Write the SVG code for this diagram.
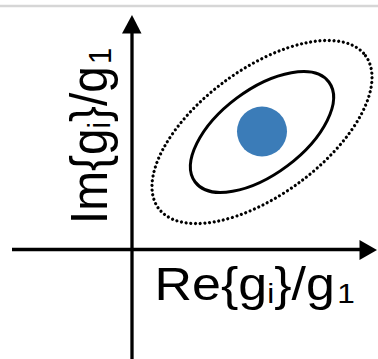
<svg xmlns="http://www.w3.org/2000/svg" width="378" height="359" viewBox="0 0 378 359">
  <style>
    .axis { stroke: #000; stroke-width: 3.3; fill: none; }
    .head { fill: #000; stroke: none; }
    .lbl { font-family: "Liberation Sans", Arial, Helvetica, sans-serif; font-size: 46px; fill: #000; }
    .sub { font-size: 28px; }
  </style>
  <rect x="0" y="0" width="378" height="359" fill="#fff"/>
  <line x1="0" y1="6" x2="378" y2="6" stroke="#d6d6d6" stroke-width="2.5"/>

  <g id="ellipses">
    <ellipse id="outer" cx="262" cy="132" rx="128.6" ry="62.8" transform="rotate(-36.4 262 132)" fill="none" stroke="#000" stroke-width="3.2" stroke-dasharray="0 4.7" stroke-linecap="round"/>
    <ellipse id="inner" cx="262" cy="132" rx="83.5" ry="42.3" transform="rotate(-36.8 262 132)" fill="none" stroke="#000" stroke-width="3"/>
    <circle id="center" cx="262" cy="131.5" r="25" fill="#3b7cb8"/>
  </g>

  <g id="axes">
    <line class="axis" x1="132" y1="30" x2="132" y2="359"/>
    <polygon class="head" points="132,15 122,33.5 141.5,33.5"/>
    <line class="axis" x1="12" y1="249.5" x2="362" y2="249.5"/>
    <polygon class="head" points="377,250 359.5,240 359.5,260"/>
  </g>

  <g id="xlabel" transform="translate(154.5,300) scale(1.13,1)">
    <text class="lbl" x="0" y="0">Re{g<tspan class="sub" dy="3">i</tspan><tspan dy="-3">}/g</tspan><tspan class="sub" dy="3" dx="2">1</tspan></text>
  </g>

  <g id="ylabel" transform="translate(107,220) rotate(-90) scale(1.04,1.12)">
    <text class="lbl" x="-4" y="0">Im{g<tspan class="sub" dy="3">i</tspan><tspan dy="-3">}/g</tspan><tspan class="sub" dy="4" dx="2">1</tspan></text>
  </g>
</svg>
